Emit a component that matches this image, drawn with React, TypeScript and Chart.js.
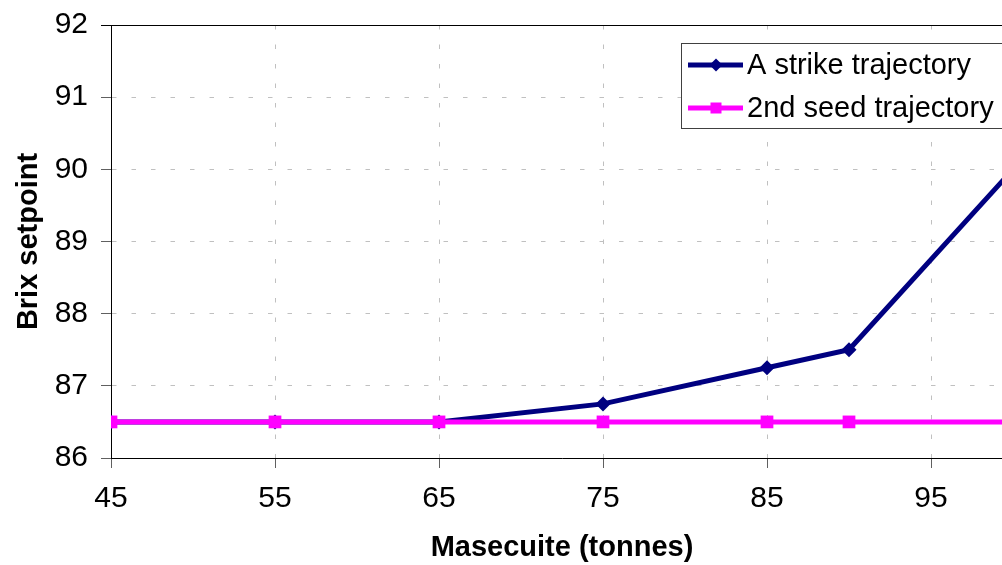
import { useEffect, useRef } from "react";
import { Chart, registerables } from "chart.js";
Chart.register(...registerables);

const xA = [45, 55, 65, 75, 85, 90, 100];
const aStrike = [86.5, 86.5, 86.5, 86.75, 87.25, 87.5, 90];
const xSeed = [45, 55, 65, 75, 85, 90, 100];
const seed = [86.5, 86.5, 86.5, 86.5, 86.5, 86.5, 86.5];
const xTicks = [45, 55, 65, 75, 85, 95];
const yTicks = [86, 87, 88, 89, 90, 91, 92];
const seriesLabels = ["A strike trajectory", "2nd seed trajectory"];
const xTitle = "Masecuite (tonnes)";
const yTitle = "Brix setpoint";

const FONT = 'Arial, "Liberation Sans", sans-serif';
const BLUE = "#000080";
const MAGENTA = "#ff00ff";

const frameLegendPlugin = {
  id: "frameLegend",
  afterDraw(chart: any) {
    const ctx = chart.ctx;
    const { left, top, right } = chart.chartArea;
    ctx.save();
    ctx.strokeStyle = "#000";
    ctx.lineWidth = 1;
    ctx.beginPath();
    ctx.moveTo(left - 10, Math.round(top) + 0.5);
    ctx.lineTo(right, Math.round(top) + 0.5);
    ctx.stroke();

    const bx = 681.5, by = 43.5, bw = 400, bh = 85;
    ctx.fillStyle = "#fff";
    ctx.fillRect(bx, by, bw, bh);
    ctx.strokeStyle = "#404040";
    ctx.strokeRect(bx, by, bw, bh);
    const items = [chart.data.datasets[0], chart.data.datasets[1]];
    items.forEach((ds: any, i: number) => {
      const y = 65 + i * 43;
      ctx.strokeStyle = ds.borderColor;
      ctx.lineWidth = 5;
      ctx.beginPath();
      ctx.moveTo(688, y);
      ctx.lineTo(743, y);
      ctx.stroke();
      ctx.fillStyle = ds.borderColor;
      ctx.beginPath();
      if (ds.pointStyle === "rectRot") {
        const r = 6.5;
        ctx.moveTo(716, y - r);
        ctx.lineTo(716 + r, y);
        ctx.lineTo(716, y + r);
        ctx.lineTo(716 - r, y);
        ctx.closePath();
      } else {
        ctx.rect(716 - 5.5, y - 5.5, 11, 11);
      }
      ctx.fill();
      ctx.fillStyle = "#000";
      ctx.font = `29px ${FONT}`;
      ctx.textBaseline = "middle";
      ctx.textAlign = "left";
      ctx.fillText(ds.label, 747, y + 1);
    });
    ctx.restore();
  },
};

export default function App() {
  const ref = useRef<HTMLCanvasElement>(null);
  useEffect(() => {
    if (!ref.current) return;
    const gridCommon = {
      color: "#c0c0c0",
      lineWidth: 1,
      tickLength: 10,
      tickColor: "#606060",
      tickBorderDash: [],
    };
    const chart = new Chart(ref.current, {
      type: "line",
      data: {
        datasets: [
          {
            label: seriesLabels[0],
            data: xA.map((x, i) => ({ x, y: aStrike[i] })),
            borderColor: BLUE,
            backgroundColor: BLUE,
            borderWidth: 5,
            pointStyle: "rectRot",
            pointRadius: 7.5,
            pointBorderWidth: 0,
            pointHoverRadius: 7.5,
            order: 1,
          },
          {
            label: seriesLabels[1],
            data: xSeed.map((x, i) => ({ x, y: seed[i] })),
            borderColor: MAGENTA,
            backgroundColor: MAGENTA,
            borderWidth: 5,
            pointStyle: "rect",
            pointRadius: 9,
            pointBorderWidth: 0,
            pointHoverRadius: 9,
            order: 0,
          },
        ],
      },
      options: {
        animation: false,
        responsive: false,
        events: [],
        layout: { padding: { top: 25, right: 27, left: 0, bottom: 0 } },
        plugins: { legend: { display: false }, tooltip: { enabled: false } },
        scales: {
          x: {
            type: "linear",
            min: 45,
            max: 100,
            afterBuildTicks: (s: any) => {
              s.ticks = xTicks.map((v) => ({ value: v }));
            },
            afterFit: (s: any) => {
              s.height = 107;
              s.paddingLeft = 0;
              s.paddingRight = 0;
            },
            grid: gridCommon,
            border: { color: "#000", width: 1, dash: [4.5, 15] },
            ticks: {
              color: "#000",
              font: { family: FONT, size: 30 },
              padding: 13,
              maxRotation: 0,
              autoSkip: false,
            },
            title: {
              display: true,
              text: xTitle,
              color: "#000",
              font: { family: FONT, size: 29, weight: "bold" },
              padding: { top: 0, bottom: 0 },
            },
          },
          y: {
            type: "linear",
            min: 86,
            max: 92,
            afterBuildTicks: (s: any) => {
              s.ticks = yTicks.map((v) => ({ value: v }));
            },
            afterFit: (s: any) => {
              s.width = 111;
              s.paddingTop = 0;
              s.paddingBottom = 0;
            },
            grid: gridCommon,
            border: { color: "#000", width: 1, dash: [4.5, 15] },
            ticks: {
              color: "#000",
              font: { family: FONT, size: 30 },
              padding: 13,
              autoSkip: false,
            },
            title: {
              display: true,
              text: yTitle,
              color: "#000",
              font: { family: FONT, size: 29, weight: "bold" },
              padding: { top: 12, bottom: 0 },
            },
          },
        },
      },
      plugins: [frameLegendPlugin],
    } as any);
    return () => chart.destroy();
  }, []);
  return (
    <div
      style={{
        position: "fixed",
        left: 0,
        top: 0,
        width: 1002,
        height: 565,
        overflow: "hidden",
        background: "#fff",
      }}
    >
      <canvas ref={ref} width={1040} height={565} style={{ width: 1040, height: 565, display: "block" }} />
    </div>
  );
}
